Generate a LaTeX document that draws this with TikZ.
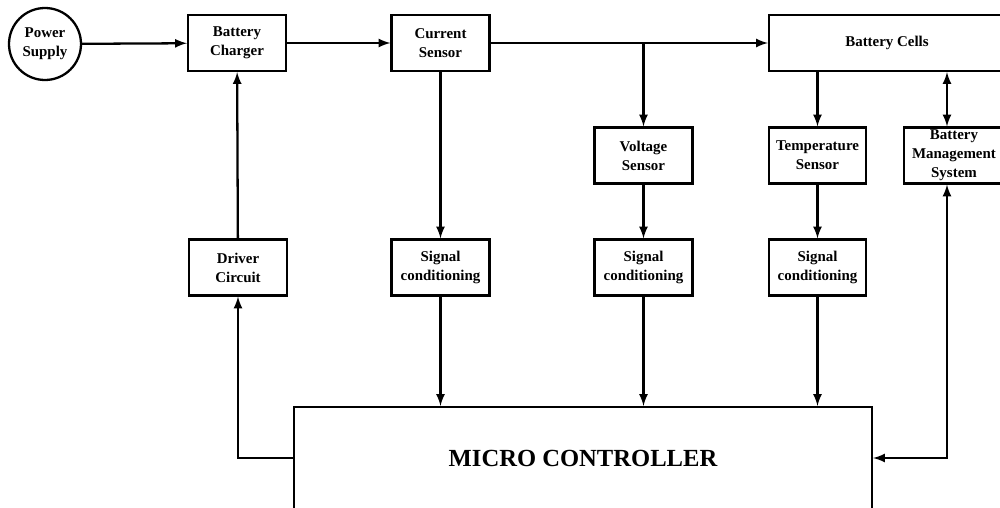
\documentclass[tikz,border=0pt]{standalone}
\usepackage{fontspec}
\setmainfont{Liberation Serif}
\usepackage{tikz}
\usetikzlibrary{arrows}
\usetikzlibrary{positioning}
\tikzset{
    blk/.style={draw, line width=1.3pt, align=center, inner sep=1pt,
        minimum width=1.96cm, minimum height=1.12cm,
        font=\bfseries\fontsize{8.5}{10.8}\selectfont},
    src/.style={draw, circle, line width=1.3pt, align=center, inner sep=0pt,
        minimum size=1.44cm, font=\bfseries\fontsize{8.5}{10.8}\selectfont},
    link/.style={line width=1.3pt, -latex},
    dlink/.style={line width=1.3pt, latex-latex}
}

\begin{document}
\begin{tikzpicture}
  \useasboundingbox (0,0) rectangle (20,-10.16);
  \clip (0,0) rectangle (20,-10.16);
  \node[src] (PS) at (0.9,-0.88) {Power\\Supply};
  \node[blk] (BC) at (4.74,-0.86) {Battery\\Charger};
  \node[blk] (CS) at (8.81,-0.86) {Current\\Sensor};
  \node[blk, minimum width=4.72cm] (BCells) at (17.74,-0.86) {Battery Cells};
  \node[blk] (VS) at (12.87,-3.11) {Voltage\\Sensor};
  \node[blk, minimum width=1.94cm] (TS) at (16.35,-3.11) {Temperature\\Sensor};
  \node[blk, minimum width=2.0cm, inner sep=0pt] (BMS) at (19.08,-3.11) {Battery\\Management\\System};
  \node[blk] (DC) at (4.76,-5.35) {Driver\\Circuit};
  \node[blk] (SC1) at (8.81,-5.35) {Signal\\conditioning};
  \node[blk] (SC2) at (12.87,-5.35) {Signal\\conditioning};
  \node[blk, minimum width=1.94cm] (SC3) at (16.35,-5.35) {Signal\\conditioning};
  \node[blk, minimum width=11.56cm, minimum height=2.04cm, font=\bfseries\fontsize{14}{16}\selectfont] (MC) at (11.66,-9.16) {MICRO CONTROLLER};

  \draw[link] (PS) -- (BC);
  \draw[link] (BC) -- (CS);
  \draw[link] (CS) -- (BCells);
  \draw[link] (CS.east -| VS.north) -- (VS.north);
  \draw[link] (CS) -- (SC1);
  \draw[link] (VS) -- (SC2);
  \draw[link] (BCells.south -| TS.north) -- (TS);
  \draw[link] (TS) -- (SC3);
  \draw[link] (SC1) -- (SC1 |- MC.north);
  \draw[link] (SC2) -- (SC2 |- MC.north);
  \draw[link] (SC3) -- (SC3 |- MC.north);
  \draw[dlink] ([xshift=-1.4mm]BMS.north |- BCells.south) -- ([xshift=-1.4mm]BMS.north);
  \draw[dlink] ([xshift=-1.4mm]BMS.south) |- (MC.east);
  \draw[link] (MC.west) -| (DC.south);
  \draw[link] (DC) -- (BC);
\end{tikzpicture}
\end{document}
